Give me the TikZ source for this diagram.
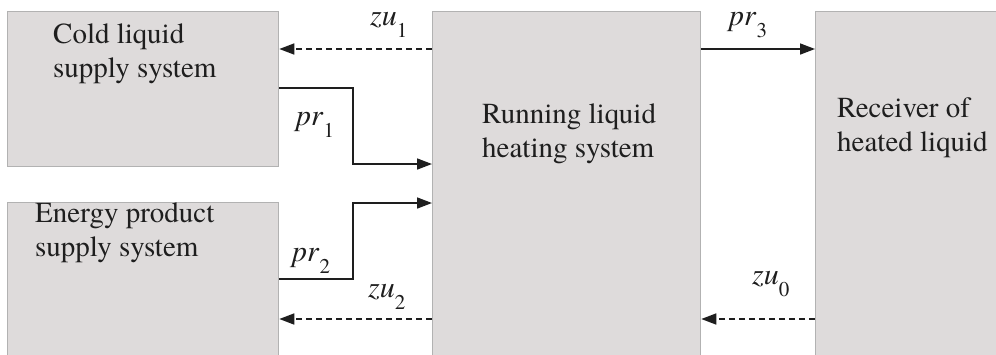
\documentclass[tikz,border=0pt]{standalone}
\usepackage{fontspec}
\setmainfont{texgyretermes}[Extension=.otf, UprightFont=*-regular, ItalicFont=*-italic, BoldFont=*-bold, BoldItalicFont=*-bolditalic]
\usetikzlibrary{arrows.meta}
\definecolor{boxfill}{HTML}{DEDBDB}
\definecolor{boxline}{HTML}{B2B2B2}
\definecolor{ink}{HTML}{1E1E1E}
\newcommand\lblx[2]{\textit{#1}\raisebox{-12pt}{\fontsize{21}{21}\selectfont #2}}
\tikzset{
  blk/.style={draw=boxline, fill=boxfill, line width=1.3pt, anchor=north west, inner sep=0pt},
  txt/.style={anchor=base west, align=left, inner sep=0pt, text=ink, font=\fontsize{29}{34}\selectfont},
  lab/.style={anchor=base west, inner sep=0pt, text=ink, font=\fontsize{30}{34}\selectfont},
  solidarrow/.style={draw=ink, line width=1.6pt, -{Triangle[length=15pt,width=11pt]}},
  dasharrow/.style={draw=ink, line width=1.6pt, dash pattern=on 6pt off 4pt, -{Triangle[length=15pt,width=11pt]}}
}
\begin{document}
\begin{tikzpicture}[x=1pt,y=-1pt]
\useasboundingbox[fill=white] (0,0) rectangle (996,354);
% boxes
\node[blk, minimum width=271pt, minimum height=155pt] (cold) at (7,11) {};
\node[blk, minimum width=271pt, minimum height=160pt] (energy) at (7,202) {};
\node[blk, minimum width=268pt, minimum height=350pt] (heat) at (432,11) {};
\node[blk, minimum width=190pt, minimum height=350pt] (recv) at (815,11) {};
% texts
\node[txt] (tcold) at (53,77) {Cold liquid\\supply system};
\node[txt] (tenergy) at (35,256) {Energy product\\supply system};
\node[txt] (theat) at (482,157) {Running liquid\\heating system};
\node[txt] (trecv) at (837,151) {Receiver of\\heated liquid};
% helper coordinates
\coordinate (y49) at (0,49);
\coordinate (y88) at (0,88);
\coordinate (y164) at (0,164);
\coordinate (y203) at (0,203);
\coordinate (y279) at (0,279);
\coordinate (y319) at (0,319);
\coordinate (k1) at (353,88);
\coordinate (k2) at (353,279);
% connectors
\draw[dasharrow] (heat.west |- y49) -- (cold.east |- y49);
\draw[solidarrow] (cold.east |- y88) -- (k1) |- (heat.west |- y164);
\draw[solidarrow] (energy.east |- y279) -- (k2) |- (heat.west |- y203);
\draw[dasharrow] (heat.west |- y319) -- (energy.east |- y319);
\draw[solidarrow] (heat.east |- y49) -- (recv.west |- y49);
\draw[dasharrow] (recv.west |- y319) -- (heat.east |- y319);
% labels
\node[lab] (lzu1) at (370,25) {\lblx{zu}{1}};
\node[lab] (lpr1) at (296,125) {\lblx{pr}{1}};
\node[lab] (lpr2) at (292,261) {\lblx{pr}{2}};
\node[lab] (lzu2) at (368,297) {\lblx{zu}{2}};
\node[lab] (lpr3) at (729,25) {\lblx{pr}{3}};
\node[lab] (lzu0) at (752,284) {\lblx{zu}{0}};
\end{tikzpicture}
\end{document}
